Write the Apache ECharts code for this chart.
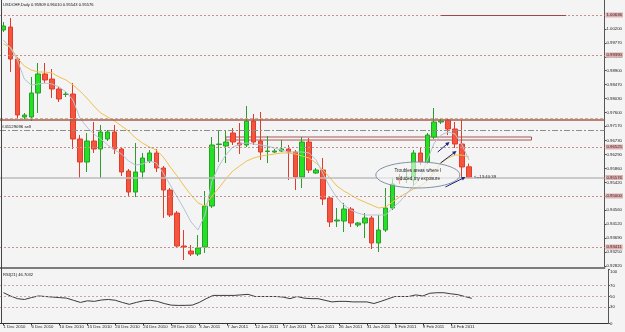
<!DOCTYPE html>
<html><head><meta charset="utf-8">
<script src="https://cdn.jsdelivr.net/npm/echarts@6/dist/echarts.min.js"></script>
<style>html,body{margin:0;padding:0;background:#f4f4f4;}#c{width:625px;height:332px;}</style>
</head><body><div id="c"></div>
<script>
const dates = ["1 Dec 2010","2 Dec 2010","3 Dec 2010","5 Dec 2010","6 Dec 2010","7 Dec 2010","8 Dec 2010","9 Dec 2010","10 Dec 2010","12 Dec 2010",
"13 Dec 2010","14 Dec 2010","15 Dec 2010","16 Dec 2010","17 Dec 2010","19 Dec 2010","20 Dec 2010","21 Dec 2010","22 Dec 2010","23 Dec 2010",
"24 Dec 2010","26 Dec 2010","27 Dec 2010","28 Dec 2010","29 Dec 2010","30 Dec 2010","31 Dec 2010","2 Jan 2011","3 Jan 2011","4 Jan 2011",
"5 Jan 2011","6 Jan 2011","7 Jan 2011","9 Jan 2011","10 Jan 2011","11 Jan 2011","12 Jan 2011","13 Jan 2011","14 Jan 2011","16 Jan 2011",
"17 Jan 2011","18 Jan 2011","19 Jan 2011","20 Jan 2011","21 Jan 2011","23 Jan 2011","24 Jan 2011","25 Jan 2011","26 Jan 2011","27 Jan 2011",
"28 Jan 2011","30 Jan 2011","31 Jan 2011","1 Feb 2011","2 Feb 2011","3 Feb 2011","4 Feb 2011","6 Feb 2011","7 Feb 2011","8 Feb 2011",
"9 Feb 2011","10 Feb 2011","11 Feb 2011","13 Feb 2011","14 Feb 2011","15 Feb 2011","16 Feb 2011","17 Feb 2011"];

const openP = [1.00169,1.00262,0.99266,0.97460,0.97460,0.98207,0.98799,0.98643,0.98332,0.98160,
0.98176,0.96775,0.96058,0.96712,0.96463,0.96775,0.96993,0.96463,0.95778,0.95124,
0.95747,0.96090,0.96339,0.95872,0.95186,0.94470,0.93443,0.93287,0.93193,0.93411,
0.94688,0.96603,0.96557,0.96961,0.96650,0.96588,0.97335,0.96712,0.96385,0.96370,
0.96401,0.96463,0.96370,0.95591,0.96681,0.95716,0.95809,0.94937,0.94221,0.94221,
0.94595,0.94097,0.94159,0.94315,0.93536,0.93941,0.94626,0.95591,0.95529,0.95498,
0.96339,0.96058,0.96837,0.97304,0.97366,0.97086,0.96619,0.95909];
const closeP = [1.00293,0.99266,0.97522,0.97522,0.98207,0.98799,0.98612,0.98332,0.98020,0.98176,
0.96775,0.96058,0.96712,0.96463,0.96993,0.96993,0.96463,0.95747,0.95124,0.95747,
0.96183,0.96339,0.95872,0.95186,0.94408,0.93443,0.93411,0.93193,0.93380,0.94688,
0.96588,0.96619,0.96681,0.96681,0.96588,0.97335,0.96681,0.96370,0.96401,0.96401,
0.96463,0.96370,0.95591,0.96681,0.95809,0.95809,0.94906,0.94190,0.94252,0.94595,
0.94159,0.94159,0.94315,0.93536,0.93941,0.94626,0.95373,0.95498,0.95591,0.96339,
0.96058,0.96899,0.97304,0.97335,0.97086,0.96619,0.95903,0.95576];
const lowP = [1.00107,0.98861,0.97429,0.97397,0.97335,0.97584,0.98518,0.98051,0.97927,0.98082,
0.96463,0.95560,0.95747,0.96339,0.95560,0.96712,0.96307,0.95622,0.95000,0.94968,
0.95529,0.96027,0.95747,0.94315,0.94346,0.93380,0.93007,0.93131,0.93131,0.93225,
0.94626,0.96058,0.96027,0.96588,0.96307,0.96525,0.96588,0.96121,0.96027,0.96339,
0.96370,0.95498,0.95186,0.95249,0.95716,0.95685,0.94719,0.94034,0.94034,0.93879,
0.94034,0.94034,0.93692,0.93349,0.93256,0.93879,0.94564,0.95373,0.95404,0.95311,
0.95965,0.95996,0.96775,0.97242,0.96899,0.96494,0.95591,0.95543];
const highP = [1.00418,1.00543,0.99328,0.97584,0.98705,0.99141,0.99141,0.98954,0.98394,0.98238,
0.98518,0.96899,0.96961,0.97304,0.97211,0.97055,0.97211,0.96525,0.95840,0.96650,
0.96339,0.96432,0.96463,0.95934,0.95249,0.94533,0.93941,0.93474,0.93785,0.95155,
0.96837,0.97055,0.97055,0.97117,0.97273,0.97802,0.97553,0.97615,0.96868,0.96463,
0.96743,0.96588,0.96432,0.96837,0.96806,0.95872,0.96183,0.95000,0.94626,0.94782,
0.94657,0.94190,0.94470,0.94377,0.94408,0.95249,0.95591,0.95685,0.95747,0.96432,
0.96525,0.96961,0.97740,0.97397,0.97429,0.97304,0.97366,0.96010];

const maSlow = [0.99733,0.99639,0.99297,0.99048,0.98923,0.98861,0.98861,0.98830,0.98705,0.98612,
0.98456,0.98269,0.98051,0.97802,0.97584,0.97460,0.97335,0.97179,0.97024,0.96806,
0.96650,0.96525,0.96432,0.96214,0.95903,0.95622,0.95311,0.95031,0.94782,0.94688,
0.95000,0.95249,0.95529,0.95778,0.95934,0.96090,0.96183,0.96245,0.96276,0.96307,
0.96339,0.96339,0.96307,0.96245,0.96183,0.96027,0.95809,0.95560,0.95311,0.95155,
0.95031,0.94906,0.94813,0.94719,0.94626,0.94657,0.94813,0.94968,0.95093,0.95218,
0.95311,0.95467,0.95747,0.96027,0.96183,0.96276,0.96276,0.96214];
const maFast = [0.99857,0.99608,0.99235,0.98643,0.98456,0.98487,0.98518,0.98487,0.98394,0.98238,
0.97989,0.97429,0.97148,0.96930,0.96775,0.96588,0.96432,0.96307,0.96090,0.95965,
0.95996,0.96090,0.96027,0.95716,0.95342,0.94968,0.94595,0.94190,0.93941,0.94408,
0.95467,0.95934,0.96276,0.96525,0.96619,0.96650,0.96619,0.96588,0.96557,0.96494,
0.96432,0.96370,0.96370,0.96370,0.96339,0.96121,0.95685,0.95280,0.94937,0.94719,
0.94564,0.94470,0.94408,0.94408,0.94408,0.94408,0.94626,0.94813,0.95062,0.95311,
0.95560,0.96121,0.96650,0.96899,0.96993,0.96930,0.96588,0.96121];
const rsi = [57,51,46,44.5,48,51,50,49,48,47,
43,39,42,41,43.5,44.5,43,39,35.5,39,
42,43,41,37,34,33.5,33.6,34,39,46,
52,52,52,52,53,54,50,50,50,50,
49,46,50,47,46,46,43,40,41,41,
40,40,40,37,41,45.5,50,50,50,53,
51,56,57,57,55,53.5,50,46.7];

const priceTicks = [1.00200,0.99770,0.99330,0.98900,0.98470,0.98030,0.97600,0.97170,0.96730,0.96290,
0.95860,0.95420,0.94990,0.94560,0.94120,0.93690,0.93250,0.92820];
const rsiTicks = [0,30,50,70,100];
const rsiLevels = [70,50,30];
const dottedLevels = [1.00636,0.99390,0.96525,0.95000,0.93411];
const bandLevels = [0.97429,0.97366];
const orderLevel = 0.97055;
const orderText = "#41129096 sell";
const lastClose = 0.95576;
const topSegment = [63,81];
const boxArea = [32,0.96837,76,0.96743];
const titleText = "USDCHF,Daily 0.95909 0.96010 0.95543 0.95576";
const rsiText = "RSI(21) 46.7032";
const noteCenter = [59.64,0.95654];
const noteLines = ["Troubles areas where I","reduced my exposure"];
const arrows = [[62.5,0.96370,64.2,0.96681],[62.9,0.96027,65.2,0.96401],[63.6,0.95280,66.5,0.95591]];
const timeTag = "<--13:40:39";

const FONT = 'Liberation Sans';
const FS = 4.3;
const pad = 19;
const cats = dates.concat(Array.from({length: pad}, (_, k) => '_' + k));
const showIdx = (i) => i < dates.length && i % 4 === 0;
const ohlc = dates.map((d, i) => [openP[i], closeP[i], lowP[i], highP[i]]);

const levelLabel = {show:true, position:'end', distance:1, formatter: p => Number(p.value).toFixed(5),
  fontSize:FS, fontFamily:FONT, color:'#4a1a1a', backgroundColor:'#dcb2b2', padding:[1,1,0,1]};
const pinkDot = {type:[2,2], color:'#c79090', width:1};

const markData = [];
dottedLevels.forEach(v => markData.push({yAxis:v, lineStyle:pinkDot, label:levelLabel}));
markData.push([{coord:[topSegment[0], dottedLevels[0]], lineStyle:{type:'solid', color:'#a04848', width:1}},
               {coord:[topSegment[1], dottedLevels[0]], lineStyle:{type:'solid', color:'#a04848', width:1}}]);
markData.push({yAxis:bandLevels[0], lineStyle:{type:[3,2], color:'#c9b47c', width:1}, label:{show:false}});
markData.push({yAxis:bandLevels[1], lineStyle:{type:'solid', color:'#a65a5a', width:1.5}, label:{show:false}});
markData.push({yAxis:orderLevel, lineStyle:{type:[6,2,2,2], color:'#8e8e8e', width:1},
  label:{show:true, position:'insideStartTop', distance:[2,1], formatter:orderText, fontSize:FS, fontFamily:FONT, color:'#111'}});
markData.push({yAxis:lastClose, lineStyle:{type:'solid', color:'#bdbdbd', width:1.5}, label:levelLabel});

const chart = echarts.init(document.getElementById('c'));
chart.setOption({
  animation:false,
  backgroundColor:'#f4f4f4',
  textStyle:{fontFamily:FONT},
  grid:[{left:-1, width:609, top:0, height:268},{left:-1, width:609, top:269.5, height:54}],
  xAxis:[
    {type:'category', gridIndex:0, data:cats, boundaryGap:true,
     axisLine:{show:true, lineStyle:{color:'#7c7c7c', width:2}}, axisTick:{show:false}, axisLabel:{show:false}, splitLine:{show:false}},
    {type:'category', gridIndex:1, data:cats, boundaryGap:true,
     axisLine:{show:true, lineStyle:{color:'#333', width:1}},
     axisTick:{show:true, interval:(i)=>showIdx(i), alignWithLabel:true, length:2, lineStyle:{color:'#333'}},
     axisLabel:{interval:(i)=>showIdx(i), align:'left', margin:1.5, fontSize:FS, fontFamily:FONT, color:'#222'},
     splitLine:{show:false}}
  ],
  yAxis:[
    {type:'value', gridIndex:0, position:'right', min:0.92758, max:1.01103,
     axisLine:{show:true, lineStyle:{color:'#555'}},
     axisTick:{show:true, length:2, customValues:priceTicks, lineStyle:{color:'#555'}},
     axisLabel:{customValues:priceTicks, formatter:v=>Number(v).toFixed(5), fontSize:FS, fontFamily:FONT, margin:2, color:'#222'},
     splitLine:{show:false}},
    {type:'value', gridIndex:1, position:'right', min:0, max:100,
     axisLine:{show:true, lineStyle:{color:'#555'}},
     axisTick:{show:true, length:2, customValues:rsiTicks, lineStyle:{color:'#555'}},
     axisLabel:{customValues:rsiTicks, fontSize:FS, fontFamily:FONT, margin:2, color:'#222', verticalAlignMaxLabel:'top'},
     splitLine:{show:false}}
  ],
  series:[
    {type:'candlestick', xAxisIndex:0, yAxisIndex:0, data:ohlc, barWidth:5,
     itemStyle:{color:'#22e322', color0:'#f4553f', borderColor:'#2c9c2c', borderColor0:'#e03c2c', borderWidth:1},
     markLine:{silent:true, precision:6, symbol:['none','none'], animation:false, data:markData},
     markArea:{silent:true, data:[[{coord:[boxArea[0], boxArea[1]], itemStyle:{color:'rgba(0,0,0,0)', borderColor:'#a85656', borderWidth:1}},
                                   {coord:[boxArea[2], boxArea[3]]}]]}},
    {type:'line', xAxisIndex:0, yAxisIndex:0, data:maSlow, symbol:'none', silent:true, lineStyle:{color:'#f0c24c', width:1}},
    {type:'line', xAxisIndex:0, yAxisIndex:0, data:maFast, symbol:'none', silent:true, lineStyle:{color:'#b3c3d6', width:1}},
    {type:'line', xAxisIndex:1, yAxisIndex:1, data:rsi, symbol:'none', silent:true, lineStyle:{color:'#3a3a3a', width:1},
     markLine:{silent:true, precision:2, symbol:['none','none'], label:{show:false}, lineStyle:{type:[2,2], color:'#c8a4a4', width:1},
       data:rsiLevels.map(v=>({yAxis:v}))}}
  ]
});

function toPx(idx, price){
  const i0 = Math.floor(idx);
  const a = chart.convertToPixel({gridIndex:0}, [i0, price]);
  const b = chart.convertToPixel({gridIndex:0}, [i0+1, price]);
  return [a[0] + (idx - i0) * (b[0] - a[0]), a[1]];
}
const g = [];
g.push({type:'line', shape:{x1:1.5, y1:0, x2:1.5, y2:323.5}, style:{stroke:'#444', lineWidth:1}, z:50});
g.push({type:'text', x:3, y:5, style:{text:titleText, fontSize:4.1, fontFamily:FONT, fill:'#111', verticalAlign:'middle'}, z:50});
g.push({type:'text', x:3, y:274.5, style:{text:rsiText, fontSize:4.1, fontFamily:FONT, fill:'#111', verticalAlign:'middle'}, z:50});
const c = toPx(noteCenter[0], noteCenter[1]);
g.push({type:'ellipse', shape:{cx:c[0], cy:c[1], rx:42, ry:13}, style:{fill:'rgba(246,246,246,0.62)', stroke:'#7f90a2', lineWidth:1}, z:60});
noteLines.forEach((t, k) => g.push({type:'text', x:c[0], y:c[1] - 4 + k*7.5,
  style:{text:t, fontSize:4.6, fontFamily:FONT, fill:'#222', align:'center', verticalAlign:'middle'}, z:61}));
arrows.forEach(a => {
  const p0 = toPx(a[0], a[1]), p1 = toPx(a[2], a[3]);
  const dx = p1[0]-p0[0], dy = p1[1]-p0[1], L = Math.hypot(dx, dy) || 1;
  const ux = dx/L, uy = dy/L, nx = -uy, ny = ux;
  g.push({type:'line', shape:{x1:p0[0], y1:p0[1], x2:p1[0]-ux*2, y2:p1[1]-uy*2}, style:{stroke:'#1c2a78', lineWidth:1}, z:62});
  g.push({type:'polygon', shape:{points:[[p1[0],p1[1]],[p1[0]-ux*4+nx*2,p1[1]-uy*4+ny*2],[p1[0]-ux*4-nx*2,p1[1]-uy*4-ny*2]]}, style:{fill:'#1c2a78'}, z:62});
});
const lp = toPx(dates.length - 1, lastClose);
g.push({type:'text', x:lp[0] + 5, y:lp[1] - 1, style:{text:timeTag, fontSize:FS, fontFamily:FONT, fill:'#222', verticalAlign:'middle'}, z:62});
chart.setOption({graphic:g});
</script>
</body></html>
